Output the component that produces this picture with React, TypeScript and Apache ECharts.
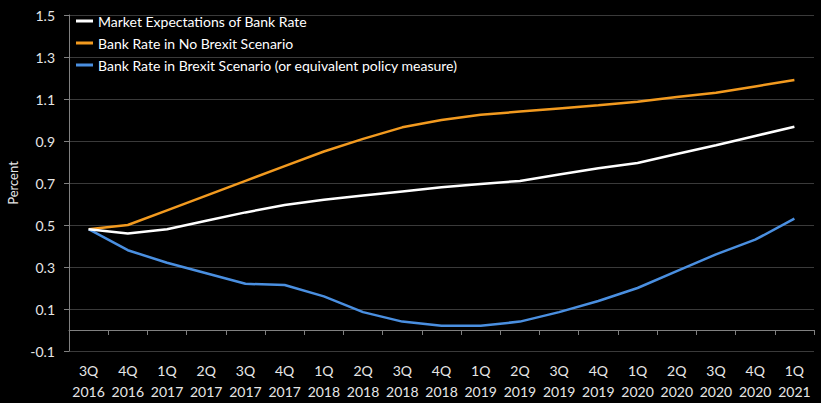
import React, { useEffect, useRef } from "react";
import * as echarts from "echarts";

const categories = [
  "3Q\n2016", "4Q\n2016", "1Q\n2017", "2Q\n2017", "3Q\n2017", "4Q\n2017",
  "1Q\n2018", "2Q\n2018", "3Q\n2018", "4Q\n2018", "1Q\n2019", "2Q\n2019",
  "3Q\n2019", "4Q\n2019", "1Q\n2020", "2Q\n2020", "3Q\n2020", "4Q\n2020", "1Q\n2021",
];
const marketExpectations = [0.48, 0.46, 0.48, 0.52, 0.56, 0.595, 0.62, 0.64, 0.66, 0.68, 0.695, 0.71, 0.74, 0.77, 0.795, 0.838, 0.88, 0.924, 0.968];
const noBrexit = [0.48, 0.5, 0.57, 0.64, 0.71, 0.78, 0.85, 0.91, 0.965, 1.0, 1.025, 1.04, 1.055, 1.07, 1.087, 1.11, 1.13, 1.16, 1.19];
const brexit = [0.48, 0.38, 0.32, 0.27, 0.22, 0.214, 0.16, 0.085, 0.04, 0.02, 0.02, 0.04, 0.085, 0.138, 0.2, 0.28, 0.36, 0.43, 0.53];
const yTicks = [-0.1, 0.1, 0.3, 0.5, 0.7, 0.9, 1.1, 1.3, 1.5];

const FONT = "Lato, 'Noto Sans', sans-serif";

export default function App() {
  const ref = useRef<HTMLDivElement>(null);
  useEffect(() => {
    if (!ref.current) return;
    const chart = echarts.init(ref.current, undefined, { renderer: "svg" });
    chart.setOption({
      animation: false,
      backgroundColor: "#000000",
      textStyle: { fontFamily: FONT },
      grid: { left: 69, right: 7, top: 15, bottom: 52, outerBoundsMode: "none", containLabel: false },
      legend: {
        orient: "vertical",
        left: 76,
        top: 14,
        padding: 0,
        itemWidth: 17,
        itemHeight: 3,
        itemGap: 8,
        icon: "rect",
        textStyle: { color: "#ffffff", fontSize: 14, fontFamily: FONT },
        data: [
          "Market Expectations of Bank Rate",
          "Bank Rate in No Brexit Scenario",
          "Bank Rate in Brexit Scenario (or equivalent policy measure)",
        ],
      },
      xAxis: {
        type: "category",
        data: categories,
        boundaryGap: true,
        axisLine: { onZero: true, lineStyle: { color: "#808080", width: 1 } },
        axisTick: { show: true, length: 5, lineStyle: { color: "#808080", width: 1 } },
        axisLabel: {
          color: "#e6e6e6",
          fontSize: 14,
          lineHeight: 21,
          margin: 9,
          interval: 0,
          fontFamily: FONT,
        },
      },
      yAxis: {
        type: "value",
        min: -0.1,
        max: 1.5,
        name: "Percent",
        nameLocation: "middle",
        nameGap: 50,
        nameTextStyle: { color: "#e6e6e6", fontSize: 13, fontFamily: FONT },
        axisLine: { show: true, lineStyle: { color: "#808080" } },
        axisTick: { show: true, length: 5, customValues: yTicks, lineStyle: { color: "#808080" } },
        axisLabel: {
          customValues: yTicks,
          color: "#e6e6e6",
          fontSize: 14,
          margin: 14,
          fontFamily: FONT,
          formatter: (v: number) => v.toFixed(1),
        },
        splitLine: { show: true, lineStyle: { color: "#3a3a3a", width: 1 } },
      },
      series: [
        {
          name: "Market Expectations of Bank Rate",
          type: "line",
          data: marketExpectations,
          symbol: "none",
          lineStyle: { color: "#ffffff", width: 2.5 },
          itemStyle: { color: "#ffffff" },
          z: 3,
        },
        {
          name: "Bank Rate in No Brexit Scenario",
          type: "line",
          data: noBrexit,
          symbol: "none",
          lineStyle: { color: "#f29a1f", width: 2.5 },
          itemStyle: { color: "#f29a1f" },
          z: 2,
        },
        {
          name: "Bank Rate in Brexit Scenario (or equivalent policy measure)",
          type: "line",
          data: brexit,
          symbol: "none",
          lineStyle: { color: "#4a8fe0", width: 2.5 },
          itemStyle: { color: "#4a8fe0" },
          z: 2,
        },
      ],
    });
    return () => chart.dispose();
  }, []);
  return (
    <div
      ref={ref}
      style={{ position: "fixed", left: 0, top: 0, width: 821, height: 403, background: "#000" }}
    />
  );
}
